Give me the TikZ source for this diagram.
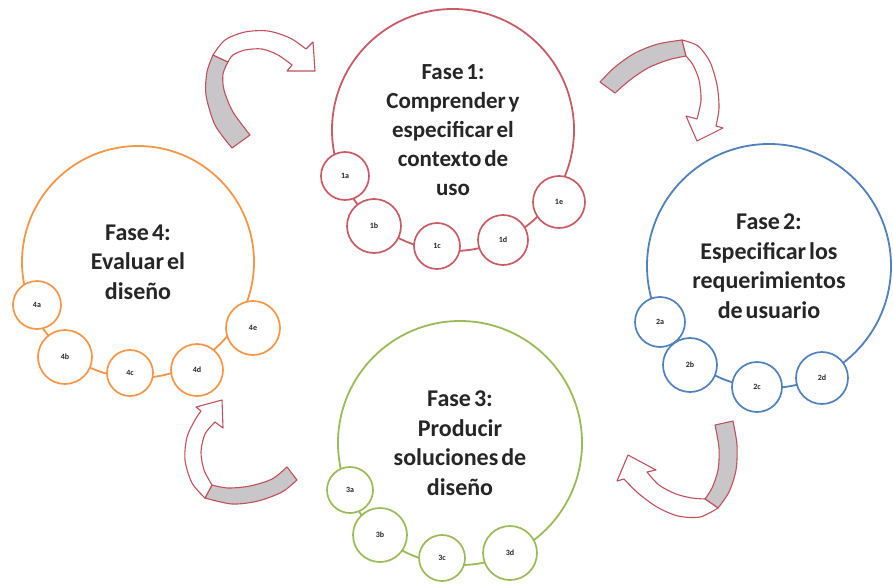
\documentclass[tikz,border=0pt]{standalone}
\usepackage{fontspec}
\setmainfont{Carlito}[WordSpace=0.55]
\definecolor{phaseone}{RGB}{200,92,100}
\definecolor{phasetwo}{RGB}{79,129,189}
\definecolor{phasethree}{RGB}{155,187,89}
\definecolor{phasefour}{RGB}{247,150,70}
\definecolor{arrowedge}{RGB}{192,80,90}
\definecolor{arrowback}{RGB}{200,198,200}
\definecolor{labeltext}{RGB}{38,38,38}
\begin{document}
\begin{tikzpicture}[x=1pt,y=-1pt,
  phase/.style={circle, draw=#1, line width=1.8pt, fill=white, inner sep=0pt,
    align=center, text=labeltext, font=\bfseries\fontsize{24}{29.5}\selectfont},
  sub/.style={circle, draw=#1, line width=1.7pt, fill=white, inner sep=0pt,
    text=labeltext, font=\bfseries\fontsize{8}{9}\selectfont},
  arrowline/.style={draw=arrowedge, line width=1.1pt, line join=round},
  backband/.style={arrowline, fill=arrowback},
  frontband/.style={arrowline, fill=white}]
\useasboundingbox (0,0) rectangle (893,586);

% Phase circles
\node[phase=phaseone, minimum size=242pt, font=\bfseries\fontsize{23}{29}\selectfont]
  (f1) at (453,130) {Fase 1:\\Comprender y\\especificar el\\contexto de\\uso};
\node[phase=phasetwo, minimum size=244pt] (f2) at (769,266)
  {Fase 2:\\Especificar los\\requerimientos\\de usuario};
\node[phase=phasethree, minimum size=244pt] (f3) at (460,443)
  {Fase 3:\\Producir\\soluciones de\\diseño};
\node[phase=phasefour, minimum size=232pt] (f4) at (138,262)
  {Fase 4:\\Evaluar el\\diseño};

% Sub-activities along each phase
\node[sub=phaseone, minimum size=48pt] (s1a) at (345,176) {1a};
\node[sub=phaseone, minimum size=54pt] (s1b) at (374,226) {1b};
\node[sub=phaseone, minimum size=46pt] (s1c) at (437,246) {1c};
\node[sub=phaseone, minimum size=50pt] (s1d) at (503,240) {1d};
\node[sub=phaseone, minimum size=52pt] (s1e) at (559,202) {1e};

\node[sub=phasetwo, minimum size=50pt] (s2a) at (660,322) {2a};
\node[sub=phasetwo, minimum size=54pt] (s2b) at (690,365) {2b};
\node[sub=phasetwo, minimum size=50pt] (s2c) at (757,387) {2c};
\node[sub=phasetwo, minimum size=52pt] (s2d) at (822,378) {2d};

\node[sub=phasethree, minimum size=46pt] (s3a) at (350,490) {3a};
\node[sub=phasethree, minimum size=54pt] (s3b) at (380,535) {3b};
\node[sub=phasethree, minimum size=46pt] (s3c) at (442,558) {3c};
\node[sub=phasethree, minimum size=54pt] (s3d) at (510,553) {3d};

\node[sub=phasefour, minimum size=48pt] (s4a) at (37,305) {4a};
\node[sub=phasefour, minimum size=54pt] (s4b) at (65,357) {4b};
\node[sub=phasefour, minimum size=46pt] (s4c) at (130,373) {4c};
\node[sub=phasefour, minimum size=52pt] (s4d) at (197,370) {4d};
\node[sub=phasefour, minimum size=54pt] (s4e) at (253,328) {4e};

% Twisted block arrows between phases
% 4 -> 1
\path[backband] plot[smooth] coordinates {(232,148) (215,125) (206,95) (207,72) (213,55)}
  -- plot[smooth] coordinates {(228,62) (223,74) (224,90) (233,112) (250,135)} -- cycle;
\path[frontband] plot[smooth] coordinates {(213,55) (225,40) (245,32) (268,31) (290,38) (306,49)}
  -- (313,42) -- (315,71) -- (287,71)
  -- plot[smooth] coordinates {(292,65) (278,55) (262,49) (245,50) (233,55) (228,62)} -- cycle;

% 1 -> 2
\path[backband] plot[smooth] coordinates {(600,82) (615,67) (635,53) (658,44) (682,40)}
  -- plot[smooth] coordinates {(686,56) (668,60) (648,68) (630,80) (615,93)} -- cycle;
\path[frontband] plot[smooth] coordinates {(682,40) (698,46) (710,62) (717,85) (719,108) (716,126)}
  -- (723,128) -- (697,141) -- (686,116)
  -- plot[smooth] coordinates {(697,119) (701,100) (699,80) (693,65) (686,56)} -- cycle;

% 2 -> 3
\path[backband] plot[smooth] coordinates {(733,421) (737,445) (736,470) (729,492) (718,508)}
  -- plot[smooth] coordinates {(705,499) (712,488) (718,470) (719,448) (715,425)} -- cycle;
\path[frontband] plot[smooth] coordinates {(718,508) (700,517) (678,516) (657,507) (638,493) (624,479)}
  -- (617,481) -- (628,455) -- (656,470)
  -- plot[smooth] coordinates {(647,472) (659,485) (676,494) (692,498) (705,499)} -- cycle;

% 3 -> 4
\path[backband] plot[smooth] coordinates {(297,480) (282,492) (258,501) (232,504) (205,498)}
  -- plot[smooth] coordinates {(212,485) (228,488) (250,486) (272,479) (287,467)} -- cycle;
\path[frontband] plot[smooth] coordinates {(205,498) (192,483) (185,460) (187,437) (195,420) (201,411)}
  -- (196,407) -- (222,400) -- (223,428)
  -- plot[smooth] coordinates {(215,422) (205,434) (201,452) (204,470) (212,485)} -- cycle;
\end{tikzpicture}
\end{document}
